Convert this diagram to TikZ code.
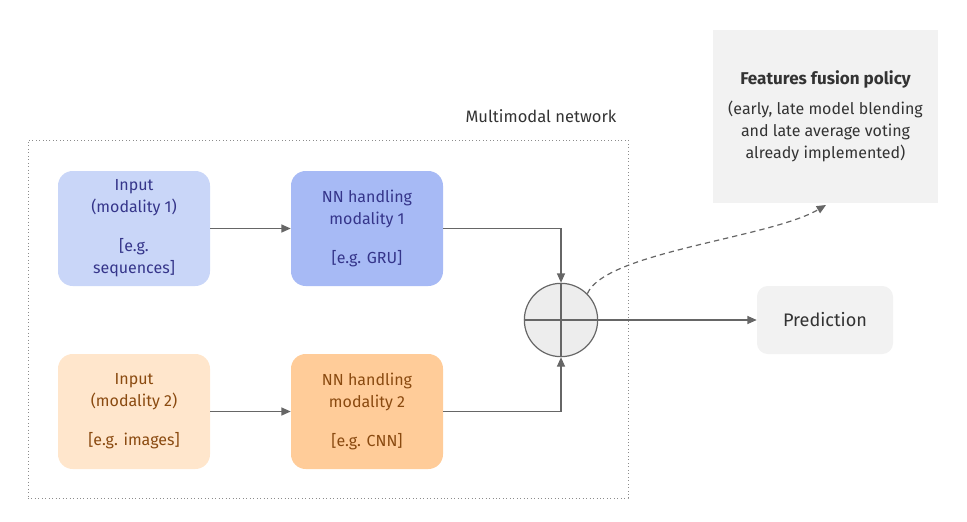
\documentclass[tikz,border=0pt]{standalone}
\usepackage{fontspec}
\setmainfont{Fira Sans}
\usepackage{tikz}
\usetikzlibrary{arrows.meta}

\definecolor{blueA}{HTML}{C9D6F8}
\definecolor{blueB}{HTML}{A7BAF5}
\definecolor{blueT}{HTML}{35358A}
\definecolor{orangeA}{HTML}{FFE6CC}
\definecolor{orangeB}{HTML}{FFCC99}
\definecolor{orangeT}{HTML}{8A4A10}
\definecolor{greyBox}{HTML}{F2F2F2}
\definecolor{greyLine}{HTML}{666666}
\definecolor{greyT}{HTML}{333333}

\tikzset{
  block/.style={rounded corners=11pt,minimum width=114pt,minimum height=86.25pt,align=center,
    font=\fontsize{12}{16.5}\selectfont},
  link/.style={draw=greyLine,line width=0.9pt,-{Triangle[length=7pt,width=6pt]}},
}

\begin{document}
\begin{tikzpicture}[x=0.75pt,y=-0.75pt]
\useasboundingbox (0,0) rectangle (967,521);

\node[draw=black!45,dotted,line width=0.6pt,minimum width=450pt,minimum height=268.5pt] (net) at (328,319) {};
\node[text=greyT,font=\fontsize{12.4}{14}\selectfont] (netlabel) at (541,116) {Multimodal network};

\node[block,fill=blueA,text=blueT] (in1) at (134,228.5) {Input\\(modality 1)\\[13pt]{[}e.g.\\sequences{]}};
\node[block,fill=blueB,text=blueT] (nn1) at (367,228.5) {NN handling\\modality 1\\[13pt]{[}e.g. GRU{]}};
\node[block,fill=orangeA,text=orangeT] (in2) at (134,411.5) {Input\\(modality 2)\\[13pt]{[}e.g. images{]}};
\node[block,fill=orangeB,text=orangeT] (nn2) at (367,411.5) {NN handling\\modality 2\\[13pt]{[}e.g. CNN{]}};

\node[circle,draw=greyLine,line width=0.9pt,fill=black!7,minimum size=55pt,inner sep=0pt] (fuse) at (561,320) {};
\draw[greyLine,line width=0.9pt] (fuse.west) -- (fuse.east) (fuse.north) -- (fuse.south);

\node[block,fill=greyBox,text=greyT,minimum width=102pt,minimum height=51pt,rounded corners=8pt,
  font=\fontsize{13.6}{15}\selectfont] (pred) at (825,320) {Prediction};
\node[fill=greyBox,text=greyT,minimum width=168.75pt,minimum height=129.75pt,align=center,
  font=\fontsize{12}{16.5}\selectfont] (policy) at (825.5,116.5)
  {{\fontsize{12.8}{15}\selectfont\bfseries Features fusion policy}\\[6pt](early, late model blending\\and late average voting\\already implemented)};
\coordinate (policyin) at (826,205);

\draw[link] (in1) -- (nn1);
\draw[link] (in2) -- (nn2);
\draw[link] (nn1.east) -| (fuse.north);
\draw[link] (nn2.east) -| (fuse.south);
\draw[link] (fuse.east) -- (pred.west);
\draw[link,dashed,dash pattern=on 4pt off 3pt] (fuse.45) .. controls (605,252) and (770,238) .. (policyin);
\end{tikzpicture}
\end{document}
